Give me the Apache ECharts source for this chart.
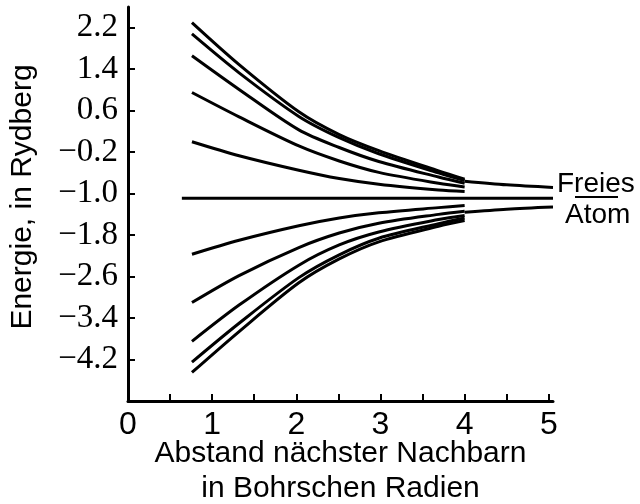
<!DOCTYPE html>
<html>
<head>
<meta charset="utf-8">
<script src="https://cdn.jsdelivr.net/npm/echarts@6/dist/echarts.min.js"></script>
<style>
  html, body { margin: 0; padding: 0; background: #fff; }
  #main { width: 640px; height: 504px; }
</style>
</head>
<body>
<div id="main"></div>
<script>
// Abstand in Bohrschen Radien
var xs = [0.76, 1.32, 2.03, 2.51, 2.98, 3.69, 4.0];

// Baender oberhalb des Atomniveaus
var upper1 = [2.30, 1.49, 0.58, 0.14, -0.17, -0.56, -0.72];
var upper2 = [2.08, 1.33, 0.49, 0.08, -0.23, -0.60, -0.75];
var upper3 = [1.66, 1.01, 0.23, -0.11, -0.38, -0.68, -0.80];
var upper4 = [0.95, 0.48, -0.08, -0.37, -0.59, -0.80, -0.87];
var upper5 = [0.00, -0.27, -0.55, -0.71, -0.82, -0.93, -0.96];

// Baender unterhalb
var lower1 = [-2.17, -1.90, -1.62, -1.47, -1.37, -1.27, -1.23];
var lower2 = [-3.10, -2.58, -2.04, -1.76, -1.57, -1.40, -1.34];
var lower3 = [-3.85, -3.15, -2.38, -1.99, -1.74, -1.50, -1.42];
var lower4 = [-4.25, -3.50, -2.62, -2.18, -1.86, -1.58, -1.47];
var lower5 = [-4.45, -3.66, -2.72, -2.26, -1.93, -1.63, -1.52];

// freies Atom
var freeX = [4.0, 4.5, 5.05];
var freeUpper = [-0.76, -0.83, -0.88];
var freeLower = [-1.36, -1.30, -1.26];

var levelX = [0.64, 5.05];
var levelY = [-1.09, -1.09];

var yTicks = [-4.2, -3.4, -2.6, -1.8, -1.0, -0.2, 0.6, 1.4, 2.2];
var xTicks = [0, 0.5, 1, 1.5, 2, 2.5, 3, 3.5, 4, 4.5, 5];
var xLabels = [0, 1, 2, 3, 4, 5];

function pairs(x, y) {
  var out = [];
  for (var i = 0; i < x.length; i++) out.push([x[i], y[i]]);
  return out;
}

function curve(x, y) {
  return {
    type: 'line',
    data: pairs(x, y),
    smooth: 0.3,
    symbol: 'none',
    silent: true,
    clip: false,
    lineStyle: { color: '#000', width: 3 }
  };
}

var bands = [upper1, upper2, upper3, upper4, upper5, lower1, lower2, lower3, lower4, lower5];
var series = bands.map(function (b) { return curve(xs, b); });
series.push(curve(levelX, levelY));
series.push(curve(freeX, freeUpper));
series.push(curve(freeX, freeLower));

var myChart = echarts.init(document.getElementById('main'));
var option = {
  backgroundColor: '#fff',
  animation: false,
  grid: { left: 128, top: 7, width: 425, height: 394, outerBoundsMode: 'none', containLabel: false },
  xAxis: {
    type: 'value',
    min: 0,
    max: 5.05,
    name: 'Abstand nächster Nachbarn\nin Bohrschen Radien',
    nameLocation: 'middle',
    nameGap: 35,
    nameMoveOverlap: false,
    nameTextStyle: { fontFamily: 'Liberation Sans', fontSize: 30, color: '#000', lineHeight: 35 },
    axisLine: { onZero: false, lineStyle: { color: '#000', width: 3 } },
    axisTick: { customValues: xTicks, inside: true, length: 7, lineStyle: { color: '#000', width: 2 } },
    axisLabel: {
      customValues: xLabels,
      fontFamily: 'Liberation Sans', fontSize: 32, color: '#000', margin: 8
    },
    splitLine: { show: false }
  },
  yAxis: {
    type: 'value',
    min: -5.0,
    max: 2.6,
    name: 'Energie, in Rydberg',
    nameLocation: 'middle',
    nameGap: 90,
    nameMoveOverlap: false,
    nameTextStyle: { fontFamily: 'Liberation Sans', fontSize: 30, color: '#000', padding: [0, 0, 0, 14] },
    axisLine: { onZero: false, lineStyle: { color: '#000', width: 3 } },
    axisTick: { customValues: yTicks, inside: true, length: 7, lineStyle: { color: '#000', width: 2 } },
    axisLabel: {
      customValues: yTicks,
      fontFamily: 'Liberation Serif', fontSize: 33, color: '#000', margin: 10,
      formatter: function (v) {
        var s = Math.abs(v).toFixed(1);
        return v < 0 ? '\u2212' + s : s;
      }
    },
    splitLine: { show: false }
  },
  graphic: [
    { type: 'text', left: 557, top: 170, style: { text: 'Freies', font: '28px "Liberation Sans"', fill: '#000' } },
    { type: 'line', shape: { x1: 575, y1: 197, x2: 618, y2: 197 }, style: { stroke: '#000', lineWidth: 2 } },
    { type: 'text', left: 565, top: 201, style: { text: 'Atom', font: '28px "Liberation Sans"', fill: '#000' } }
  ],
  series: series
};

if (option && typeof option === "object") {
  myChart.setOption(option, true);
}
</script>
</body>
</html>
